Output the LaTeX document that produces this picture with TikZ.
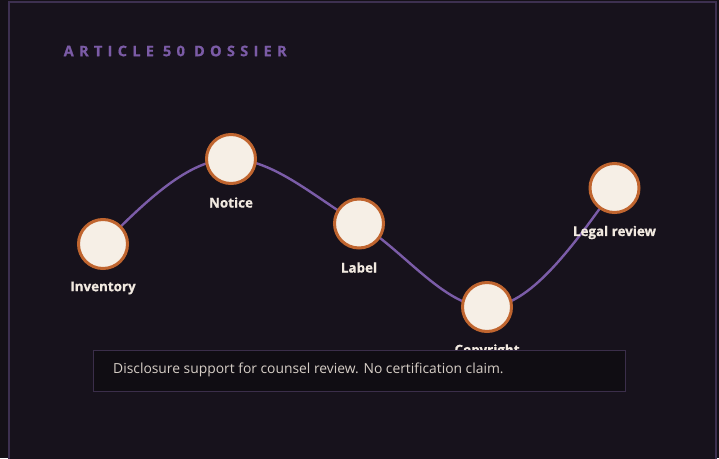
\documentclass[tikz,border=0pt]{standalone}
\usepackage{fontspec}
\setmainfont{Open Sans}
\definecolor{outerbg}{HTML}{141017}
\definecolor{panelbg}{HTML}{17121C}
\definecolor{panelline}{HTML}{3D3050}
\definecolor{titlecol}{HTML}{7B5BA6}
\definecolor{curvecol}{HTML}{7B5CA8}
\definecolor{ringcol}{HTML}{C0652F}
\definecolor{dotfill}{HTML}{F6EFE6}
\definecolor{labelcol}{HTML}{F1E9E0}
\definecolor{capfill}{HTML}{100D13}
\definecolor{capline}{HTML}{3B2E4A}
\definecolor{captext}{HTML}{D6CEC6}
\tikzset{
  stepdot/.style={circle, draw=ringcol, line width=3pt, fill=dotfill, minimum size=49pt, inner sep=0pt},
  steplabel/.style={text=labelcol, font=\fontsize{13.4}{15}\selectfont\bfseries\addfontfeatures{FakeBold=0.7}, inner sep=0pt},
  pathline/.style={draw=curvecol, line width=2.4pt}
}
\begin{document}
\begin{tikzpicture}[x=1pt,y=-1pt]
\useasboundingbox (0,0) rectangle (719,458);
\fill[outerbg] (0,0) rectangle (719,458);
\draw[panelline, fill=panelbg, line width=1.5pt] (9.2,1.8) rectangle (715.8,470);
\node[anchor=west, text=titlecol, inner sep=0pt, font=\fontsize{14.6}{17}\selectfont\bfseries\addfontfeatures{LetterSpace=36,FakeBold=0.7}] (title) at (63.5,51) {ARTICLE 50 DOSSIER};
% centers
\coordinate (c1) at (103,244);
\coordinate (c2) at (231,159);
\coordinate (c3) at (359,223.5);
\coordinate (c4) at (487,307);
\coordinate (c5) at (614.5,188);
\draw[pathline] (c1) .. controls +(42.67,-42.5) and +(-42.67,0) .. (c2)
  .. controls +(42.67,0) and +(-42.67,-24.7) .. (c3)
  .. controls +(42.67,24.7) and +(-42.67,0) .. (c4)
  .. controls +(42.5,0) and +(-42.5,59.5) .. (c5);
\node[stepdot] (inv) at (c1) {};
\node[stepdot] (notice) at (c2) {};
\node[stepdot] (lab) at (c3) {};
\node[stepdot] (copy) at (c4) {};
\node[stepdot] (legal) at (c5) {};
\node[steplabel] (invl) at (103,288) {Inventory};
\node[steplabel] (noticel) at (231,202.5) {Notice};
\node[steplabel] (labl) at (359,267.5) {Label};
\node[steplabel] (copyl) at (487,351) {Copyright};
\node[steplabel] (legall) at (614.5,232.5) {Legal review};
\node[draw=capline, fill=capfill, line width=1pt, minimum width=532pt, minimum height=41pt, inner sep=0pt, anchor=north west] (cap) at (92.5,349.5) {};
\node[anchor=west, text=captext, inner sep=0pt, font=\fontsize{13.85}{16}\selectfont] (capt) at (113,370) {Disclosure support for counsel review. No certification claim.};
\end{tikzpicture}
\end{document}
